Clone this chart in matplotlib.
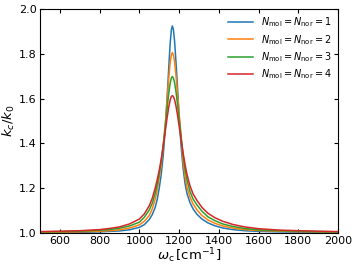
import matplotlib
matplotlib.use('Agg')
import matplotlib.pyplot as plt

# cavity frequency grid (cm^-1)
omega = [500, 600, 700, 800, 850, 900, 950, 1000, 1025, 1050, 1065, 1080, 1090, 1100, 1110, 1120,
         1130, 1140, 1148, 1155, 1161, 1166, 1171, 1177, 1184, 1192, 1200, 1210, 1220, 1230, 1240,
         1255, 1270, 1290, 1315, 1345, 1380, 1420, 1470, 1530, 1600, 1700, 1800, 1900, 2000]

# k_c / k_0
ratio_n1 = [1.002, 1.002, 1.003, 1.005, 1.007, 1.009, 1.014, 1.025, 1.037, 1.060, 1.082, 1.115,
            1.15, 1.20, 1.26, 1.345, 1.46, 1.608, 1.739, 1.845, 1.906, 1.924, 1.91, 1.859, 1.768,
            1.65, 1.52, 1.39, 1.29, 1.22, 1.175, 1.135, 1.108, 1.083, 1.062, 1.045, 1.032, 1.022,
            1.015, 1.010, 1.007, 1.005, 1.004, 1.003, 1.003]
ratio_n2 = [1.003, 1.004, 1.005, 1.008, 1.010, 1.014, 1.022, 1.036, 1.052, 1.078, 1.108, 1.152,
            1.192, 1.245, 1.305, 1.385, 1.482, 1.597, 1.69, 1.758, 1.795, 1.805, 1.796, 1.765, 1.706,
            1.623, 1.537, 1.43, 1.32, 1.25, 1.203, 1.16, 1.13, 1.103, 1.078, 1.058, 1.043, 1.031,
            1.022, 1.015, 1.011, 1.008, 1.006, 1.005, 1.004]
ratio_n3 = [1.005, 1.006, 1.008, 1.012, 1.015, 1.021, 1.031, 1.048, 1.07, 1.103, 1.133, 1.178,
            1.217, 1.265, 1.323, 1.391, 1.472, 1.558, 1.623, 1.668, 1.692, 1.698, 1.692, 1.672,
            1.633, 1.574, 1.51, 1.432, 1.35, 1.283, 1.235, 1.185, 1.152, 1.125, 1.097, 1.072, 1.055,
            1.040, 1.029, 1.020, 1.014, 1.010, 1.008, 1.006, 1.005]
ratio_n4 = [1.006, 1.008, 1.010, 1.015, 1.020, 1.027, 1.040, 1.062, 1.085, 1.122, 1.155, 1.201,
            1.238, 1.28, 1.328, 1.386, 1.451, 1.516, 1.562, 1.593, 1.609, 1.613, 1.609, 1.595,
            1.568, 1.526, 1.478, 1.416, 1.358, 1.305, 1.26, 1.21, 1.175, 1.145, 1.114, 1.088, 1.068,
            1.052, 1.038, 1.027, 1.019, 1.013, 1.010, 1.008, 1.006]

n_labels = [1, 2, 3, 4]
colors = ['#1f77b4', '#ff7f0e', '#2ca02c', '#d62728']

fig = plt.figure(figsize=(3.57, 2.69), dpi=100)
ax = fig.add_axes([0.112, 0.134, 0.835, 0.833])

for n, ys, c in zip(n_labels, [ratio_n1, ratio_n2, ratio_n3, ratio_n4], colors):
    ax.plot(omega, ys, color=c, lw=1.1,
            label=r'$N_{\rm mol} = N_{\rm nor} = %d$' % n)

ax.set_xlim(500, 2000)
ax.set_ylim(1.0, 2.0)
ax.set_xticks([600, 800, 1000, 1200, 1400, 1600, 1800, 2000])
ax.set_yticks([1.0, 1.2, 1.4, 1.6, 1.8, 2.0])
ax.tick_params(direction='in', top=True, right=True, labelsize=8, length=3, pad=2.5)
ax.set_xlabel(r'$\omega_{\rm c}\,[\mathrm{cm}^{-1}]$', fontsize=9.5, labelpad=0)
ax.set_ylabel(r'$k_c/k_0$', fontsize=9.5, labelpad=1)
ax.legend(loc='upper right', frameon=False, fontsize=7, handlelength=2.6,
          borderaxespad=0.3, labelspacing=0.35)

fig.savefig('out.png', dpi=100)
